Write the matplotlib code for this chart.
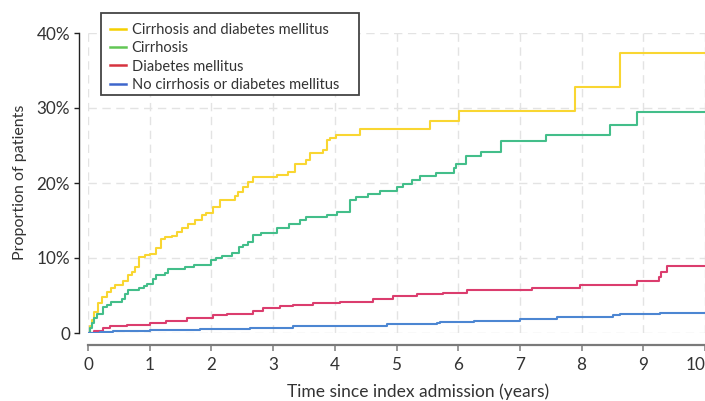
import matplotlib
matplotlib.use("Agg")
import matplotlib.pyplot as plt
from matplotlib.lines import Line2D
from matplotlib.patches import Rectangle

plt.rcParams['font.family'] = ['Lato', 'DejaVu Sans']

labels = ["Cirrhosis and diabetes mellitus", "Cirrhosis", "Diabetes mellitus",
          "No cirrhosis or diabetes mellitus"]

t_both = [0, 0.03, 0.06, 0.10, 0.17, 0.23, 0.30, 0.37, 0.44, 0.57, 0.65, 0.72, 0.76,
          0.82, 0.92, 1.00, 1.11, 1.19, 1.25, 1.36, 1.45, 1.52, 1.62, 1.73, 1.84,
          1.92, 2.03, 2.14, 2.38, 2.43, 2.51, 2.60, 2.68, 3.06, 3.24, 3.36, 3.54,
          3.60, 3.81, 3.87, 3.93, 4.02, 4.41, 5.55, 6.01, 7.89, 8.62, 10.0]
y_both = [0, 1.0, 1.7, 2.8, 4.0, 4.8, 5.5, 6.0, 6.4, 6.9, 7.7, 8.2, 8.8,
          10.2, 10.4, 10.6, 11.3, 12.6, 12.8, 12.9, 13.5, 14.0, 14.5, 15.1, 15.7,
          16.0, 16.8, 17.7, 18.3, 18.8, 19.5, 20.2, 20.8, 21.1, 21.5, 22.6, 23.1,
          24.0, 24.4, 25.7, 26.0, 26.4, 27.2, 28.3, 29.6, 32.8, 37.4, 37.4]

t_cirr = [0, 0.03, 0.06, 0.10, 0.14, 0.25, 0.30, 0.38, 0.55, 0.60, 0.65, 0.82, 0.90,
          0.95, 1.05, 1.11, 1.25, 1.30, 1.57, 1.71, 2.00, 2.08, 2.17, 2.33, 2.44,
          2.51, 2.60, 2.68, 2.81, 3.06, 3.25, 3.44, 3.54, 3.87, 4.03, 4.25, 4.35,
          4.53, 4.73, 5.00, 5.11, 5.25, 5.38, 5.64, 5.94, 5.97, 6.13, 6.37, 6.69,
          6.70, 7.42, 8.46, 8.89, 10.0]
y_cirr = [0, 0.7, 1.3, 2.0, 2.6, 3.5, 3.8, 4.2, 4.6, 5.2, 5.7, 6.0, 6.3,
          6.6, 7.2, 7.7, 8.0, 8.6, 8.8, 9.1, 9.7, 10.0, 10.3, 10.7, 11.5,
          11.8, 12.2, 13.1, 13.3, 14.0, 14.6, 15.1, 15.5, 15.7, 16.2, 17.7, 18.2,
          18.6, 19.0, 19.5, 19.9, 20.4, 20.9, 21.4, 22.0, 22.5, 23.6, 24.2, 24.9,
          25.6, 26.4, 27.7, 29.5, 29.5]

t_dm = [0, 0.10, 0.25, 0.36, 0.63, 1.00, 1.27, 1.60, 2.03, 2.25, 2.68, 2.84, 3.11,
        3.33, 3.65, 4.08, 4.38, 4.62, 4.95, 5.33, 5.76, 6.14, 7.19, 7.97, 8.89,
        9.26, 9.28, 9.39, 10.0]
y_dm = [0, 0.3, 0.67, 0.9, 1.1, 1.3, 1.55, 2.0, 2.4, 2.6, 2.9, 3.3, 3.55,
        3.8, 4.0, 4.1, 4.2, 4.5, 4.9, 5.2, 5.4, 5.7, 6.0, 6.4, 6.9,
        7.5, 8.2, 8.9, 8.9]

t_none = [0, 0.20, 0.41, 1.00, 1.82, 2.62, 3.33, 3.98, 4.85, 5.65, 5.70, 6.25,
          7.00, 7.60, 8.08, 8.51, 8.62, 9.27, 10.0]
y_none = [0, 0.2, 0.3, 0.45, 0.55, 0.7, 0.9, 1.0, 1.15, 1.3, 1.45, 1.65,
          1.9, 2.1, 2.2, 2.4, 2.5, 2.7, 2.7]

x_ticks = list(range(0, 11))
y_ticks = [0, 10, 20, 30, 40]
y_ticklabels = ["0", "10%", "20%", "30%", "40%"]

curve_colors = ["#F9D632", "#43BE8A", "#DB3D6E", "#4C86D2"]
legend_colors = ["#F5D000", "#62C655", "#D6333F", "#3E66CC"]

W, H = 705, 401
PT = 72 / 100  # points per pixel
fig = plt.figure(figsize=(W / 100, H / 100), dpi=100)
ax = fig.add_axes([88 / W, (H - 333) / H, (705 - 88) / W, 300 / H])

series = [(t_both, y_both), (t_cirr, y_cirr), (t_dm, y_dm), (t_none, y_none)]
for (tx, yy), c in zip(series, curve_colors):
    ax.step(tx, yy, where='post', color=c, lw=1.5, zorder=3)

ax.set_xlim(0, 10)
ax.set_ylim(0, 40)
ax.set_xticks(x_ticks)
ax.set_yticks(y_ticks)
ax.set_yticklabels(y_ticklabels)
ax.grid(True, color="#E3E3E3", lw=1.0, ls=(0, (6, 4)), zorder=0)
ax.set_axisbelow(True)

for s in ['top', 'right']:
    ax.spines[s].set_visible(False)
ax.spines['left'].set_position(('outward', 9 * PT))
ax.spines['bottom'].set_position(('outward', 12 * PT))
ax.spines['left'].set_color("#222222")
ax.spines['left'].set_linewidth(1.0)
ax.spines['bottom'].set_color("#7A7A7A")
ax.spines['bottom'].set_linewidth(2.2 * PT)

ax.tick_params(axis='y', length=5 * PT, width=1.0, color="#222222", labelsize=12.3,
               labelcolor="#333333", pad=4 * PT)
ax.tick_params(axis='x', length=6 * PT, width=1.5 * PT, color="#7A7A7A", labelsize=12.3,
               labelcolor="#333333", pad=6 * PT)
ax.get_xticklabels()[-1].set_horizontalalignment('right')

ax.set_xlabel("Time since index admission (years)", fontsize=12.5, color="#333333")
ax.xaxis.set_label_coords((418 - 88) / 617, (333 - 383) / 300)
ax.set_ylabel("Proportion of patients", fontsize=11.5, color="#333333")
ax.yaxis.set_label_coords((27 - 88) / 617, (333 - 182) / 300)

# legend frame drawn as a rectangle in figure pixels
fig.patches.append(Rectangle((101 / W, (H - 95) / H), (359 - 101) / W, (95 - 13) / H,
                             transform=fig.transFigure, fill=True, facecolor="white",
                             edgecolor="#444444", lw=1.3, zorder=5))
handles = [Line2D([0], [0], color=c, lw=1.8) for c in legend_colors]
leg = fig.legend(handles, labels, loc='upper left', bbox_to_anchor=(106 / W, (H - 19) / H),
                 frameon=False, fontsize=10.5, handlelength=1.05, handletextpad=0.4,
                 labelspacing=0.28, borderpad=0.3, borderaxespad=0)
leg.set_zorder(6)
for txt in leg.get_texts():
    txt.set_color("#333333")

fig.savefig("out.png", dpi=100)
